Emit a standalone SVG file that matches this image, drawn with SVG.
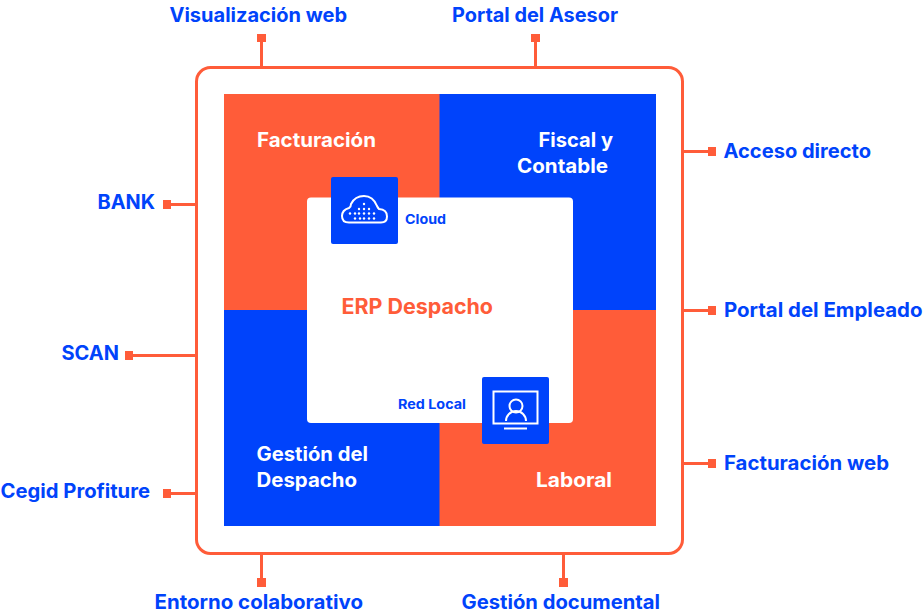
<svg xmlns="http://www.w3.org/2000/svg" width="924" height="616" viewBox="0 0 924 616">
<style>
text{font-family:Inter,"Liberation Sans",sans-serif;font-weight:700}
.l{font-size:19.5px;fill:#0043fb}
.w{font-size:19.5px;fill:#fff}
.s{font-size:13px;fill:#0043fb}
.c{fill:none;stroke:#ff5c39;stroke-width:3}
.d{fill:#ff5c39}
.o{fill:#ff5c39}.b{fill:#0043fb}
.i{fill:none;stroke:#fff;stroke-width:2}
</style>
<rect width="924" height="616" fill="#fff"/>
<g id="connectors">
<rect class="c" x="196.500" y="67.500" width="486" height="486" rx="14"/>
<path class="c" d="M261.500 38V67M535.500 38V67M683 151.500H712M683 310.500H712M683 463.500H712M167 204.500H196M129 355.500H196M167 493.500H196M261.500 554V582M563.500 554V582"/>
<rect class="d" x="257" y="34" width="9" height="8"/><rect class="d" x="531" y="34" width="9" height="8"/>
<rect class="d" x="708" y="147" width="8" height="9"/><rect class="d" x="708" y="306" width="8" height="9"/><rect class="d" x="708" y="459" width="8" height="9"/>
<rect class="d" x="163" y="200" width="8" height="9"/><rect class="d" x="125" y="351" width="8" height="9"/><rect class="d" x="163" y="489" width="8" height="9"/>
<rect class="d" x="257" y="578" width="9" height="9"/><rect class="d" x="559" y="578" width="9" height="9"/>
</g>
<g id="facturacion"><rect class="o" x="224" y="94" width="216" height="216"/><text class="w" x="257" y="147" textLength="119" lengthAdjust="spacingAndGlyphs">Facturación</text></g>
<g id="fiscal"><rect class="b" x="439.500" y="94" width="216.500" height="216"/><text class="w" x="538.500" y="147" textLength="74.500" lengthAdjust="spacingAndGlyphs">Fiscal y</text><text class="w" x="517" y="173" textLength="91" lengthAdjust="spacingAndGlyphs">Contable</text></g>
<g id="gestion"><rect class="b" x="224" y="310" width="216" height="216"/><text class="w" x="256.500" y="461" textLength="111.500" lengthAdjust="spacingAndGlyphs">Gestión del</text><text class="w" x="256.500" y="487" textLength="100.500" lengthAdjust="spacingAndGlyphs">Despacho</text></g>
<g id="laboral"><rect class="o" x="439.500" y="310" width="216.500" height="216"/><text class="w" x="536" y="487" textLength="76" lengthAdjust="spacingAndGlyphs">Laboral</text></g>
<g id="erp"><rect x="307" y="197.500" width="266" height="225.500" rx="4" fill="#fff"/><text x="341.500" y="313.500" font-size="21" fill="#ff5c39" textLength="151.500" lengthAdjust="spacingAndGlyphs">ERP Despacho</text></g>
<g id="cloud"><rect class="b" x="331" y="177" width="67" height="67" rx="2"/>
<path class="i" d="M349 222.500H381Q387 222.500 387 216.500Q387 209.500 379 209Q378 208 377 206Q373 196 364 196Q355 196 351 204Q351 207 349 208Q342 210 342 216Q342 222.500 349 222.500Z"/>
<g fill="#fff"><circle cx="364" cy="204" r="1.200"/><circle cx="359" cy="209" r="1.200"/><circle cx="364" cy="209" r="1.200"/><circle cx="369" cy="209" r="1.200"/><circle cx="350" cy="213.500" r="1.200"/><circle cx="355" cy="213.500" r="1.200"/><circle cx="359" cy="213.500" r="1.200"/><circle cx="364" cy="213.500" r="1.200"/><circle cx="369" cy="213.500" r="1.200"/><circle cx="374" cy="213.500" r="1.200"/><circle cx="355" cy="218.500" r="1.200"/><circle cx="360" cy="218.500" r="1.200"/><circle cx="364" cy="218.500" r="1.200"/><circle cx="369" cy="218.500" r="1.200"/><circle cx="374" cy="218.500" r="1.200"/></g>
<text class="s" x="405" y="223.500" textLength="41" lengthAdjust="spacingAndGlyphs">Cloud</text></g>
<g id="redlocal"><rect class="b" x="482" y="377" width="67" height="67" rx="2"/>
<rect class="i" x="493.500" y="391.500" width="44" height="32"/><path class="i" d="M506 421A10 10 0 0 1 526 421"/><circle class="i" cx="516" cy="406" r="6.500"/><path class="i" d="M504 428.500H527"/>
<text class="s" x="398" y="408.500" textLength="68" lengthAdjust="spacingAndGlyphs">Red Local</text></g>
<g id="labels">
<text class="l" x="169.500" y="22" textLength="177.500" lengthAdjust="spacingAndGlyphs">Visualización web</text>
<text class="l" x="452" y="22" textLength="166" lengthAdjust="spacingAndGlyphs">Portal del Asesor</text>
<text class="l" x="723.500" y="157.500" textLength="147.500" lengthAdjust="spacingAndGlyphs">Acceso directo</text>
<text class="l" x="724" y="316.500" textLength="198.500" lengthAdjust="spacingAndGlyphs">Portal del Empleado</text>
<text class="l" x="724" y="469.500" textLength="165" lengthAdjust="spacingAndGlyphs">Facturación web</text>
<text class="l" x="97.500" y="208.500" textLength="57.500" lengthAdjust="spacingAndGlyphs">BANK</text>
<text class="l" x="61.500" y="359.500" textLength="57.500" lengthAdjust="spacingAndGlyphs">SCAN</text>
<text class="l" x="0.500" y="497.500" textLength="149.500" lengthAdjust="spacingAndGlyphs">Cegid Profiture</text>
<text class="l" x="154.500" y="609" textLength="208.500" lengthAdjust="spacingAndGlyphs">Entorno colaborativo</text>
<text class="l" x="461.500" y="609" textLength="198.500" lengthAdjust="spacingAndGlyphs">Gestión documental</text>
</g>
</svg>
